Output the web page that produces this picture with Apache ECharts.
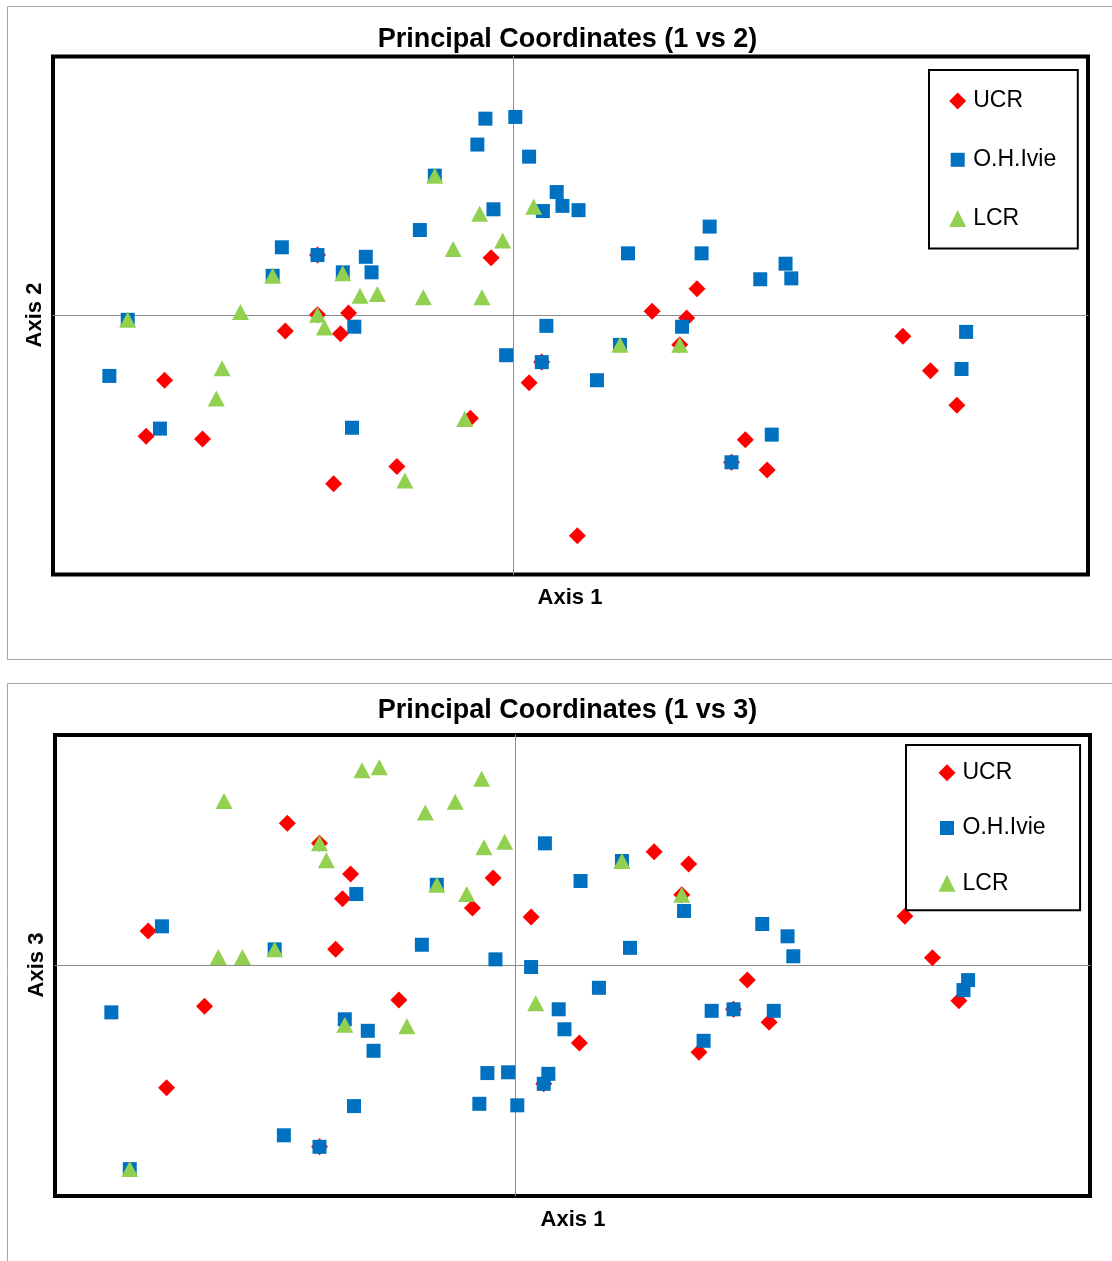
<!DOCTYPE html>
<html>
<head>
<meta charset="utf-8">
<title>Principal Coordinates</title>
<script src="https://cdn.jsdelivr.net/npm/echarts@6/dist/echarts.min.js"></script>
<style>
  html, body { margin: 0; padding: 0; background: #ffffff; }
  #main { width: 1112px; height: 1261px; }
</style>
</head>
<body>
<div id="main"></div>
<script>
// Group names, in drawing order (later groups sit on top)
const groupNames = ['UCR', 'O.H.Ivie', 'LCR'];

// UCR samples: principal coordinate scores on axes 1, 2, 3
const ucrAxis1 = [-0.319, -0.303, -0.270, -0.198, -0.170, -0.170, -0.156, -0.150, -0.143, -0.101, -0.037, -0.019, 0.014, 0.025, 0.056, 0.121, 0.151, 0.160, 0.145, 0.190, 0.202, 0.221, 0.339, 0.363, 0.386];
const ucrAxis2 = [-0.140, -0.075, -0.143, -0.018, 0.070, 0.001, -0.195, -0.021, 0.003, -0.175, -0.119, 0.067, -0.078, -0.054, -0.255, 0.005, -0.003, 0.031, -0.034, -0.170, -0.144, -0.179, -0.024, -0.064, -0.104];
const ucrAxis3 = [0.045, -0.159, -0.053, 0.185, -0.236, 0.159, 0.021, 0.087, 0.119, -0.045, 0.075, 0.114, 0.063, -0.154, -0.101, 0.148, 0.132, -0.113, 0.092, -0.057, -0.019, -0.074, 0.064, 0.010, -0.046];

// O.H.Ivie samples
const ivieAxis1 = [-0.351, -0.335, -0.307, -0.209, -0.201, -0.170, -0.148, -0.140, -0.138, -0.128, -0.123, -0.081, -0.068, -0.031, -0.024, -0.017, -0.006, 0.002, 0.014, 0.026, 0.025, 0.029, 0.038, 0.043, 0.057, 0.073, 0.093, 0.100, 0.147, 0.164, 0.171, 0.190, 0.215, 0.225, 0.237, 0.242, 0.390, 0.394];
const ivieAxis2 = [-0.070, -0.005, -0.131, 0.046, 0.079, 0.070, 0.050, -0.130, -0.013, 0.068, 0.050, 0.099, 0.162, 0.198, 0.228, 0.123, -0.046, 0.230, 0.184, 0.121, -0.054, -0.012, 0.143, 0.127, 0.122, -0.075, -0.034, 0.072, -0.013, 0.072, 0.103, -0.170, 0.042, -0.138, 0.060, 0.043, -0.062, -0.019];
const ivieAxis3 = [-0.061, -0.265, 0.051, 0.021, -0.221, -0.236, -0.070, -0.183, 0.093, -0.085, -0.111, 0.027, 0.105, -0.180, -0.140, 0.008, -0.139, -0.182, -0.002, 0.159, -0.154, -0.141, -0.057, -0.083, 0.110, -0.029, 0.136, 0.023, 0.071, -0.098, -0.059, -0.057, 0.054, -0.059, 0.038, 0.012, -0.032, -0.019];

// LCR samples
const lcrAxis1 = [-0.335, -0.258, -0.253, -0.237, -0.209, -0.170, -0.164, -0.148, -0.133, -0.118, -0.094, -0.078, -0.068, -0.052, -0.042, -0.029, -0.027, -0.009, 0.018, 0.093, 0.145];
const lcrAxis2 = [-0.005, -0.096, -0.061, 0.004, 0.046, 0.001, -0.014, 0.049, 0.023, 0.025, -0.191, 0.021, 0.162, 0.077, -0.120, 0.118, 0.021, 0.087, 0.126, -0.034, -0.034];
const lcrAxis3 = [-0.265, 0.011, 0.214, 0.011, 0.021, 0.159, 0.137, -0.077, 0.254, 0.258, -0.079, 0.199, 0.105, 0.213, 0.093, 0.243, 0.154, 0.161, -0.049, 0.136, 0.092];

// Panel titles and axis names
const panelTitles = ['Principal Coordinates (1 vs 2)', 'Principal Coordinates (1 vs 3)'];
const xAxisNames = ['Axis 1', 'Axis 1'];
const yAxisNames = ['Axis 2', 'Axis 3'];

const groups = {
  'UCR':      { a1: ucrAxis1,  a2: ucrAxis2,  a3: ucrAxis3,  color: '#FF0000', symbol: 'diamond',  size: 17 },
  'O.H.Ivie': { a1: ivieAxis1, a2: ivieAxis2, a3: ivieAxis3, color: '#0070C0', symbol: 'rect',     size: 14 },
  'LCR':      { a1: lcrAxis1,  a2: lcrAxis2,  a3: lcrAxis3,  color: '#92D050', symbol: 'triangle', size: [17, 16] }
};

// Legend icons (the square one is padded so it draws at marker size)
const legendIcons = {
  'UCR': 'diamond',
  'O.H.Ivie': 'path://M0,0L0,0M1.5,1.5L15.5,1.5L15.5,15.5L1.5,15.5ZM17,17L17,17',
  'LCR': 'triangle'
};

const pairUp = (xs, ys) => xs.map((x, i) => [x, ys[i]]);

const FONT = '"Liberation Sans", Arial, sans-serif';

const series = [];
[0, 1].forEach(panel => {
  groupNames.forEach(name => {
    const g = groups[name];
    series.push({
      type: 'scatter',
      name: name,
      xAxisIndex: panel,
      yAxisIndex: panel,
      symbol: g.symbol,
      symbolSize: g.size,
      itemStyle: { color: g.color, opacity: 1 },
      emphasis: { disabled: true },
      data: pairUp(g.a1, panel === 0 ? g.a2 : g.a3)
    });
  });
});

const axisCommon = {
  type: 'value',
  axisLine: { show: true, onZero: true, lineStyle: { color: '#8c8c8c', width: 1 } },
  axisTick: { show: false },
  axisLabel: { show: false },
  splitLine: { show: false }
};

function text(str, x, y, size, bold, rotation) {
  return {
    type: 'text',
    x: x, y: y,
    rotation: rotation || 0,
    silent: true,
    style: {
      text: str,
      font: (bold ? 'bold ' : '') + size + 'px ' + FONT,
      fill: '#000000',
      align: 'center', verticalAlign: 'middle',
      textAlign: 'center', textVerticalAlign: 'middle'
    }
  };
}

function legendFor(left, top, padding, gap) {
  return {
    data: groupNames.map(n => ({ name: n, icon: legendIcons[n] })),
    orient: 'vertical',
    left: left, top: top,
    padding: padding,
    itemGap: gap,
    itemWidth: 17,
    itemHeight: 17,
    borderColor: '#000000',
    borderWidth: 2,
    selectedMode: false,
    textStyle: { fontSize: 23, fontFamily: FONT, color: '#000000', padding: [0, 0, 0, 2] }
  };
}

const option = {
  backgroundColor: '#ffffff',
  animation: false,
  grid: [
    { left: 53, top: 56.5, width: 1035, height: 518, show: true, borderColor: '#000000', borderWidth: 4, backgroundColor: 'transparent' },
    { left: 55, top: 735, width: 1035, height: 461, show: true, borderColor: '#000000', borderWidth: 4, backgroundColor: 'transparent' }
  ],
  xAxis: [0, 1].map(i => Object.assign({ gridIndex: i, min: -0.4, max: 0.5 }, axisCommon)),
  yAxis: [0, 1].map(i => Object.assign({ gridIndex: i, min: -0.3, max: 0.3 }, axisCommon)),
  legend: [
    legendFor(929, 70, [19.5, 21.5, 18.5, 20.2], 35.8),
    legendFor(906, 745, [16.2, 34.5, 15.5, 32.5], 32.3)
  ],
  graphic: [
    // chart area outlines
    { type: 'rect', silent: true, shape: { x: 7.5, y: 6.5, width: 1125, height: 653 }, style: { fill: 'none', stroke: '#a6a6a6', lineWidth: 1 } },
    { type: 'rect', silent: true, shape: { x: 7.5, y: 683.5, width: 1125, height: 600 }, style: { fill: 'none', stroke: '#a6a6a6', lineWidth: 1 } },
    text(panelTitles[0], 567.5, 40, 27, true),
    text(panelTitles[1], 567.5, 711, 27, true),
    text(xAxisNames[0], 570, 598, 22, true),
    text(xAxisNames[1], 573, 1220, 22, true),
    text(yAxisNames[0], 35, 315, 22, true, Math.PI / 2),
    text(yAxisNames[1], 37, 965, 22, true, Math.PI / 2)
  ],
  series: series
};

const chart = echarts.init(document.getElementById('main'), null, { renderer: 'canvas' });
chart.setOption(option);
</script>
</body>
</html>
